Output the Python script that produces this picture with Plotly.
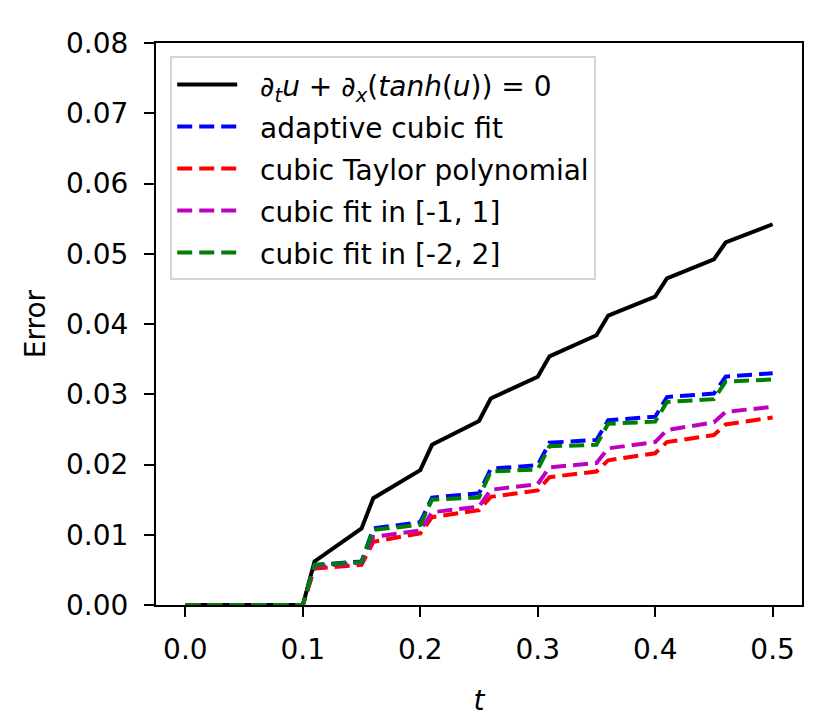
import plotly.graph_objects as go

t = [0, 0.1, 0.11, 0.15, 0.16, 0.2, 0.21, 0.25, 0.26, 0.3, 0.31, 0.35, 0.36, 0.4, 0.41, 0.45, 0.46, 0.5]

err_exact = [0, 0, 0.0062, 0.0109, 0.0152, 0.0192, 0.0228, 0.0262, 0.0294, 0.0325, 0.0354,
             0.0384, 0.0412, 0.0439, 0.0465, 0.0492, 0.0516, 0.0542]
err_adaptive = [0, 0, 0.0057, 0.0062, 0.0109, 0.0118, 0.0153, 0.0159, 0.0194, 0.0199, 0.0231,
                0.0235, 0.0263, 0.0268, 0.0296, 0.0301, 0.0325, 0.0330]
err_taylor = [0, 0, 0.0052, 0.0057, 0.0090, 0.0102, 0.0125, 0.0135, 0.0154, 0.0163, 0.0182,
              0.0190, 0.0206, 0.0216, 0.0232, 0.0242, 0.0257, 0.0267]
err_fit1 = [0, 0, 0.0055, 0.0060, 0.0097, 0.0106, 0.0132, 0.0140, 0.0164, 0.0172, 0.0196,
            0.0202, 0.0223, 0.0232, 0.0249, 0.0260, 0.0275, 0.0282]
err_fit2 = [0, 0, 0.0057, 0.0061, 0.0107, 0.0114, 0.0150, 0.0153, 0.0190, 0.0193, 0.0226,
            0.0228, 0.0258, 0.0261, 0.0289, 0.0293, 0.0318, 0.0321]

names = [
    "<i>∂</i><sub><i>t</i></sub><i>u</i> + <i>∂</i><sub><i>x</i></sub>(<i>tanh</i>(<i>u</i>)) = 0&nbsp;&nbsp;\u200b",
    "adaptive cubic fit",
    "cubic Taylor polynomial",
    "cubic fit in [-1, 1]",
    "cubic fit in [-2, 2]",
]
series = [err_exact, err_adaptive, err_taylor, err_fit1, err_fit2]
colors = ["#000000", "#0000ff", "#ff0000", "#bf00bf", "#008000"]
dashes = ["solid", "15px,7px", "15px,7px", "15px,7px", "15px,7px"]

fig = go.Figure()
for name, y, c, d in zip(names, series, colors, dashes):
    fig.add_trace(go.Scatter(
        x=t, y=y, mode="lines",
        name='<span style="font-size:28px">&nbsp;&nbsp;' + name + '</span>',
        line=dict(color=c, width=4, dash=d)))

FONT = "DejaVu Sans"
fig.update_layout(
    width=830, height=727,
    margin=dict(l=148, r=36, t=35, b=130),
    paper_bgcolor="white", plot_bgcolor="white",
    font=dict(family=FONT, size=28, color="black"),
    showlegend=True,
    legend=dict(x=0.022, y=0.976, xanchor="left", yanchor="top",
                bgcolor="rgba(255,255,255,0.8)", bordercolor="#d4d4d4", borderwidth=2,
                font=dict(family=FONT, size=30), itemwidth=60, tracegroupgap=0),
)
fig.update_xaxes(
    range=[-0.025, 0.525], tickvals=[0, 0.1, 0.2, 0.3, 0.4, 0.5],
    ticktext=["0.0", "0.1", "0.2", "0.3", "0.4", "0.5"],
    ticks="outside", ticklen=10, tickwidth=2, tickcolor="black",
    ticklabelstandoff=8,
    showline=True, linecolor="black", linewidth=2, mirror=True,
    showgrid=False, zeroline=False,
    title=dict(text="<i>t</i>", font=dict(family=FONT, size=28), standoff=26),
)
fig.update_yaxes(
    range=[0, 0.08], tickvals=[0, 0.01, 0.02, 0.03, 0.04, 0.05, 0.06, 0.07, 0.08],
    ticktext=["0.00", "0.01", "0.02", "0.03", "0.04", "0.05", "0.06", "0.07", "0.08"],
    ticks="outside", ticklen=10, tickwidth=2, tickcolor="black",
    ticklabelstandoff=10,
    showline=True, linecolor="black", linewidth=2, mirror=True,
    showgrid=False, zeroline=False,
    title=dict(text="Error", font=dict(family=FONT, size=28), standoff=12),
)
fig.write_html("out.html")
